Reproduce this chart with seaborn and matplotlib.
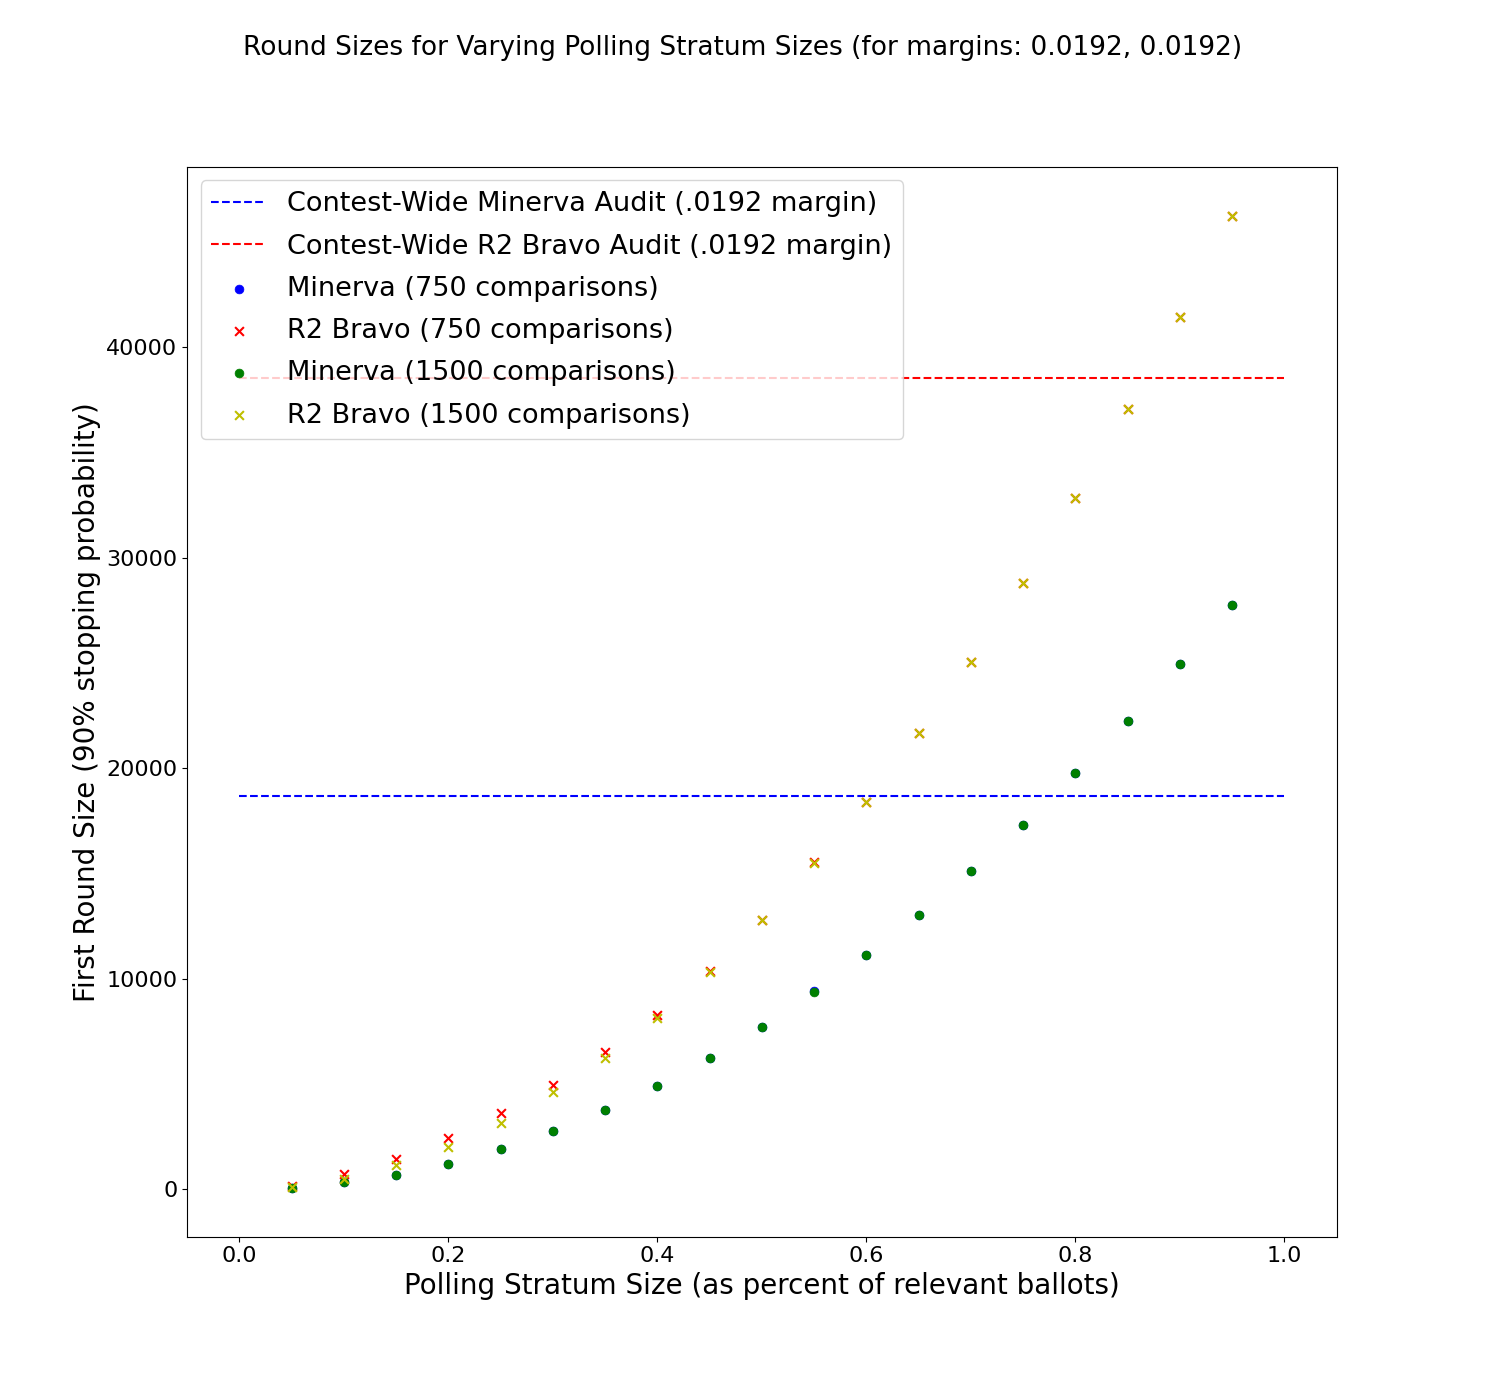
import matplotlib
matplotlib.use("Agg")
import matplotlib.pyplot as plt
import seaborn as sns

sns.set_style("ticks")
plt.rcParams['font.family'] = ['DejaVu Sans']
for k in ['text.color', 'axes.labelcolor', 'xtick.color', 'ytick.color', 'axes.edgecolor']:
    plt.rcParams[k] = 'black'

strata = [0.05, 0.1, 0.15, 0.2, 0.25, 0.3, 0.35, 0.4, 0.45, 0.5,
          0.55, 0.6, 0.65, 0.7, 0.75, 0.8, 0.85, 0.9, 0.95]
minerva_750 = [60, 340, 680, 1200, 1910, 2770, 3760, 4900, 6230, 7710,
               9400, 11130, 13030, 15120, 17300, 19770, 22240, 24950, 27750]
bravo_750 = [140, 710, 1430, 2420, 3610, 4940, 6510, 8270, 10360, 12800,
             15530, 18380, 21660, 25030, 28790, 32830, 37060, 41470, 46270]
minerva_1500 = [50, 330, 670, 1190, 1900, 2760, 3750, 4890, 6220, 7700,
                9360, 11120, 13020, 15110, 17290, 19760, 22230, 24940, 27740]
bravo_1500 = [100, 480, 1140, 2000, 3140, 4610, 6220, 8120, 10310, 12780,
              15490, 18380, 21660, 25030, 28790, 32830, 37060, 41470, 46270]
minerva_wide = 18680
bravo_wide = 38570

fig, ax = plt.subplots(figsize=(14.85, 13.91), dpi=100)
fig.subplots_adjust(left=0.126, right=0.9, top=0.88, bottom=0.111)

ax.plot([0, 1], [minerva_wide, minerva_wide], 'b--', label="Contest-Wide Minerva Audit (.0192 margin)")
ax.plot([0, 1], [bravo_wide, bravo_wide], 'r--', label="Contest-Wide R2 Bravo Audit (.0192 margin)")
sns.scatterplot(x=strata, y=minerva_750, color='b', marker='o', s=40, edgecolor=None,
                label="Minerva (750 comparisons)", ax=ax)
sns.scatterplot(x=strata, y=bravo_750, color='r', marker='x', s=40, linewidth=1.5,
                label="R2 Bravo (750 comparisons)", ax=ax)
sns.scatterplot(x=strata, y=minerva_1500, color='g', marker='o', s=40, edgecolor=None,
                label="Minerva (1500 comparisons)", ax=ax)
sns.scatterplot(x=strata, y=bravo_1500, color='y', marker='x', s=40, linewidth=1.5,
                label="R2 Bravo (1500 comparisons)", ax=ax)

ax.set_xlabel("Polling Stratum Size (as percent of relevant ballots)", fontsize=20)
ax.set_ylabel("First Round Size (90% stopping probability)", fontsize=20)
ax.tick_params(labelsize=16)
ax.legend(loc='upper left', fontsize=19.5, labelspacing=0.6)
fig.suptitle("Round Sizes for Varying Polling Stratum Sizes (for margins: 0.0192, 0.0192)",
             fontsize=19, y=0.975)

fig.savefig("out.png", dpi=100)
